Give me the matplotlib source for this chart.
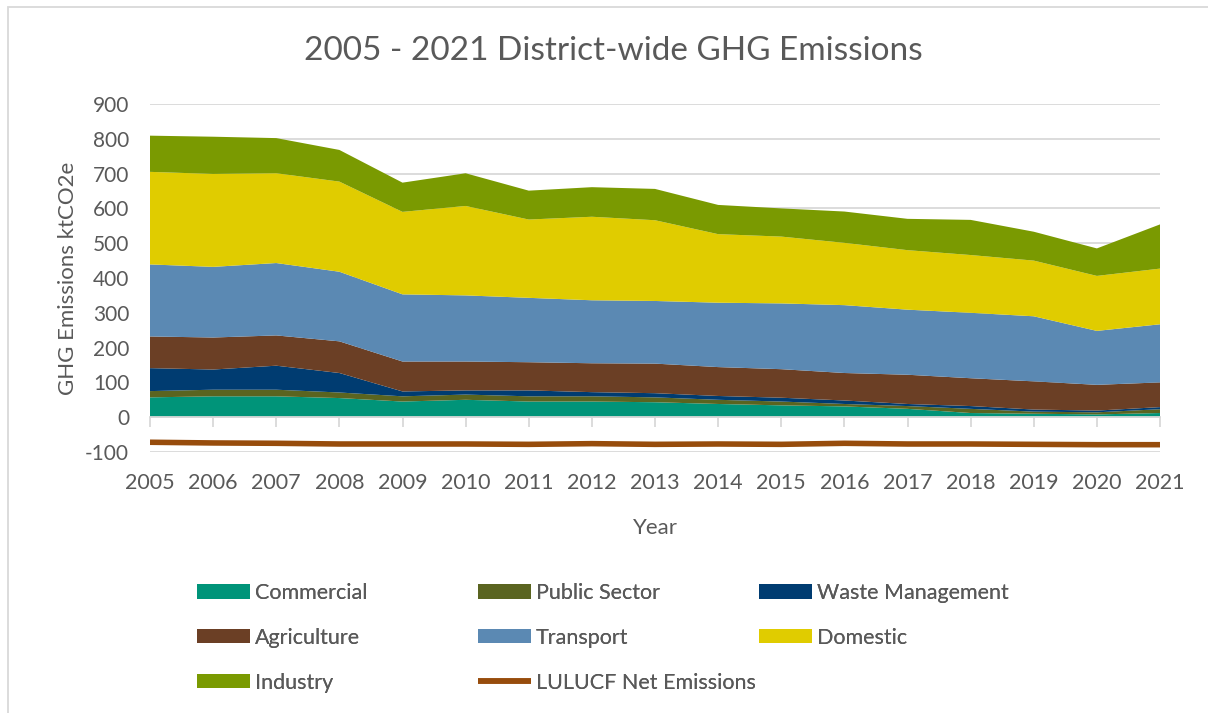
import matplotlib.pyplot as plt
import matplotlib.patches as mpatches
import numpy as np

plt.rcParams['font.family'] = ['Lato', 'DejaVu Sans']
plt.rcParams['axes.unicode_minus'] = False

years = list(range(2005, 2022))

# sector emissions, ktCO2e (stacked in this order)
commercial = [57, 60, 60, 55, 45, 50, 45, 45, 43, 38, 34, 31, 24, 12, 10, 8, 12]
public_sector = [18, 19, 19, 16, 15, 15, 15, 15, 14, 12, 11, 7, 8, 12, 6, 6, 11]
waste = [66, 58, 69, 56, 14, 12, 17, 12, 12, 11, 11, 10, 6, 8, 6, 5, 6]
agriculture = [91, 92, 87, 91, 86, 83, 81, 83, 85, 83, 82, 79, 84, 80, 81, 74, 71]
transport = [207, 203, 208, 200, 193, 190, 185, 181, 180, 185, 189, 195, 187, 188, 187, 155, 167]
domestic = [266, 267, 258, 259, 237, 257, 225, 240, 232, 197, 192, 179, 171, 166, 160, 158, 160]
industry = [104, 107, 101, 91, 84, 94, 83, 85, 90, 84, 81, 90, 90, 101, 83, 79, 127]
lulucf = [-72, -74, -75, -77, -77, -77, -78, -76, -78, -77, -78, -75, -77, -77, -78, -79, -79]

labels = ['Commercial', 'Public Sector', 'Waste Management', 'Agriculture',
          'Transport', 'Domestic', 'Industry']
colors = ['#009479', '#5A6420', '#003C71', '#6B3F25', '#5B89B3', '#E0CC00', '#7A9A01']
txt = '#595959'

fig = plt.figure(figsize=(12.08, 7.13), dpi=100)
ax = fig.add_axes([150/1208, 261/713, 1010/1208, 348/713])

polys = ax.stackplot(years, commercial, public_sector, waste, agriculture,
                     transport, domestic, industry, colors=colors, labels=labels, lw=0)
line, = ax.plot(years, lulucf, color='#974C0C', lw=4, solid_capstyle='butt',
                label='LULUCF Net Emissions', zorder=3)

ax.set_xlim(2005, 2021)
ax.set_ylim(-100, 900)
ax.set_yticks(np.arange(-100, 901, 100))
ax.grid(axis='y', color='#D9D9D9', lw=1.3)
ax.set_axisbelow(True)
for s in ['top', 'right', 'left']:
    ax.spines[s].set_visible(False)
ax.spines['bottom'].set_position(('data', 0))
ax.spines['bottom'].set_color('#D9D9D9')
ax.spines['bottom'].set_linewidth(1.3)
ax.set_xticks(years)
ax.tick_params(axis='x', length=7, width=1.3, color='#D9D9D9', labelbottom=False)
ax.tick_params(axis='y', length=0, labelsize=15, labelcolor=txt, pad=15)

sec = ax.secondary_xaxis('bottom')
sec.set_xticks(years)
sec.tick_params(length=0, labelsize=15.5, labelcolor=txt, pad=15)
sec.spines['bottom'].set_visible(False)
sec.set_xlabel('Year', fontsize=16, color=txt, labelpad=18)

ax.set_ylabel('GHG Emissions ktCO2e', fontsize=16, color=txt, labelpad=5)
fig.text(0.508, 0.928, '2005 - 2021 District-wide GHG Emissions', ha='center',
         va='center', fontsize=24, color=txt)

# legend: three equal-width columns like the original
cols = [[polys[0], polys[3], polys[6]], [polys[1], polys[4], line], [polys[2], polys[5]]]
col_x = [197, 478, 759]
for hs, x in zip(cols, col_x):
    leg = fig.legend(hs, [h.get_label() for h in hs], loc='upper left',
                     bbox_to_anchor=(x/1208, 1 - 583/713), frameon=False,
                     fontsize=15.5, labelcolor=txt, handlelength=2.45,
                     handleheight=0.65, handletextpad=0.25, labelspacing=1.15,
                     borderpad=0, borderaxespad=0)
    fig.add_artist(leg)

fig.patches.append(mpatches.Rectangle((8/1208, -0.1), 1.2, 0.1 + 706/713,
                                      transform=fig.transFigure, fill=False,
                                      edgecolor='#D9D9D9', lw=1.3))

fig.savefig('out.png', dpi=100)
